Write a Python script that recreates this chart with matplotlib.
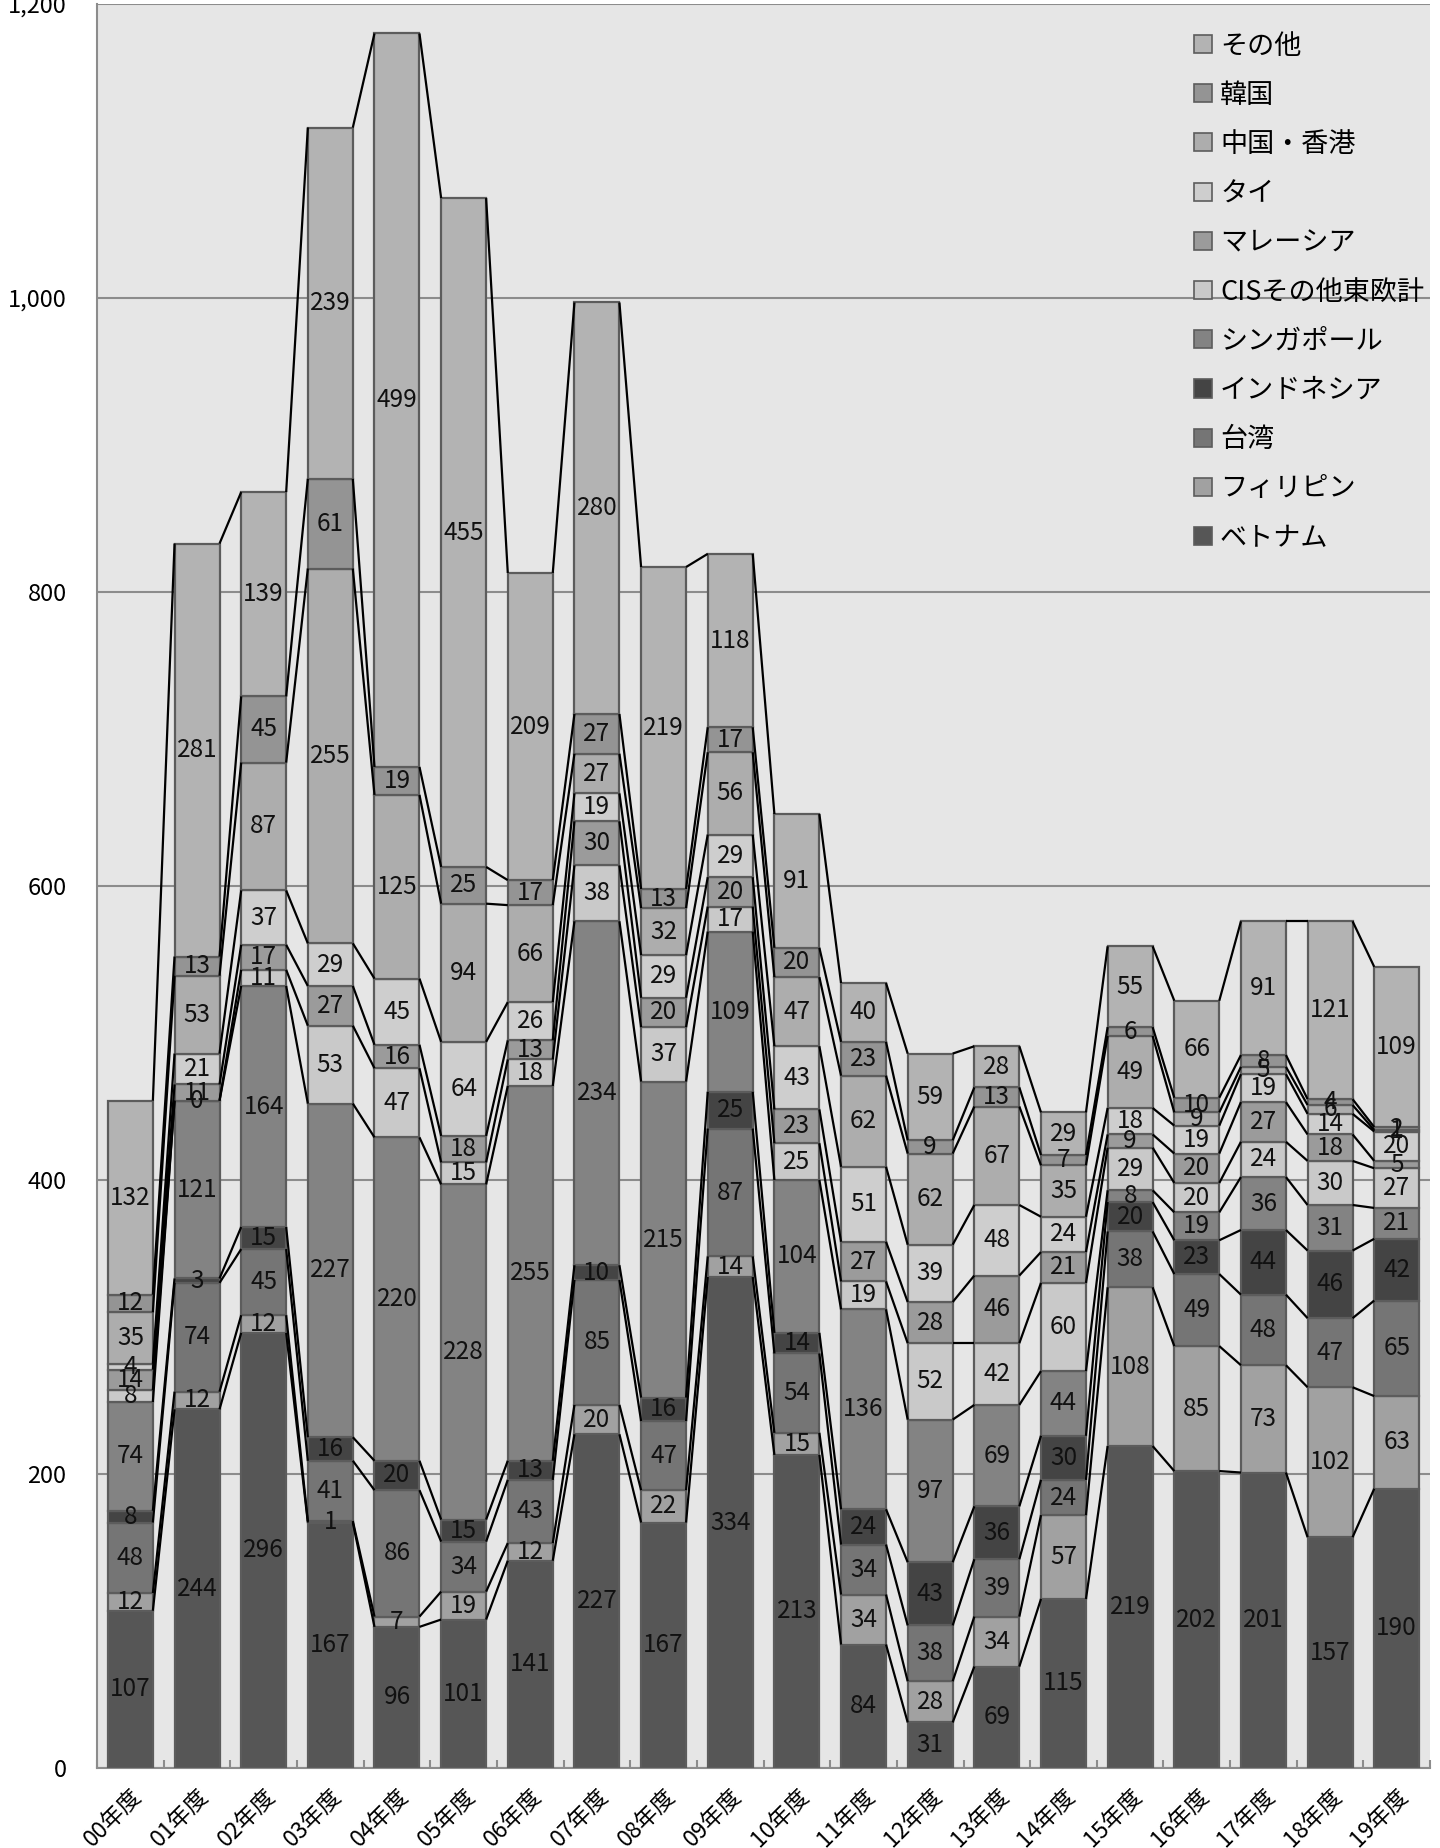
import matplotlib
matplotlib.use("Agg")
import matplotlib.pyplot as plt
from matplotlib.patches import Patch
from matplotlib.ticker import FuncFormatter, FixedLocator
import numpy as np

plt.rcParams['font.family'] = ['Noto Sans CJK JP', 'DejaVu Sans']

years = ["00年度", "01年度", "02年度", "03年度", "04年度", "05年度", "06年度",
         "07年度", "08年度", "09年度", "10年度", "11年度", "12年度", "13年度",
         "14年度", "15年度", "16年度", "17年度", "18年度", "19年度"]

# Stacked bottom to top
vietnam     = [107, 244, 296, 167, 96, 101, 141, 227, 167, 334, 213, 84, 31, 69, 115, 219, 202, 201, 157, 190]
philippines = [12, 12, 12, 1, 7, 19, 12, 20, 22, 14, 15, 34, 28, 34, 57, 108, 85, 73, 102, 63]
taiwan      = [48, 74, 45, 41, 86, 34, 43, 85, 47, 87, 54, 34, 38, 39, 24, 38, 49, 48, 47, 65]
indonesia   = [8, 3, 15, 16, 20, 15, 13, 10, 16, 25, 14, 24, 43, 36, 30, 20, 23, 44, 46, 42]
singapore   = [74, 121, 164, 227, 220, 228, 255, 234, 215, 109, 104, 136, 97, 69, 44, 8, 19, 36, 31, 21]
cis_eeurope = [8, 0, 11, 53, 47, 15, 18, 38, 37, 17, 25, 19, 52, 42, 60, 29, 20, 24, 30, 27]
malaysia    = [14, 11, 17, 27, 16, 18, 13, 30, 20, 20, 23, 27, 28, 46, 21, 9, 20, 27, 18, 5]
thailand    = [4, 21, 37, 29, 45, 64, 26, 19, 29, 29, 43, 51, 39, 48, 24, 18, 19, 19, 14, 20]
china_hk    = [35, 53, 87, 255, 125, 94, 66, 27, 32, 56, 47, 62, 62, 67, 35, 49, 9, 5, 6, 1]
korea       = [12, 13, 45, 61, 19, 25, 17, 27, 13, 17, 20, 23, 9, 13, 7, 6, 10, 8, 4, 2]
others      = [132, 281, 139, 239, 499, 455, 209, 280, 219, 118, 91, 40, 59, 28, 29, 55, 66, 91, 121, 109]

series_names = ["ベトナム", "フィリピン", "台湾", "インドネシア", "シンガポール",
                "CISその他東欧計", "マレーシア", "タイ", "中国・香港", "韓国", "その他"]
series_values = [vietnam, philippines, taiwan, indonesia, singapore,
                 cis_eeurope, malaysia, thailand, china_hk, korea, others]
series_colors = ["#565656", "#a1a1a1", "#757575", "#444444", "#838383",
                 "#c9c9c9", "#9b9b9b", "#cecece", "#adadad", "#949494", "#b3b3b3"]

fig = plt.figure(figsize=(14.4, 18.48), dpi=100)
ax = fig.add_axes([0.0674, 0.0433, 0.9257, 0.9545])
ax.set_facecolor("#e6e6e6")

x = np.arange(len(years))
width = 0.675
bottom = np.zeros(len(years))
tops = []
for name, vals, col in zip(series_names, series_values, series_colors):
    vals = np.array(vals, dtype=float)
    ax.bar(x, vals, width=width, bottom=bottom, color=col,
           edgecolor="#5c5c5c", linewidth=1.6, zorder=3)
    for xi, b, v in zip(x, bottom, vals):
        ax.text(xi, b + v / 2, f"{int(v)}", ha="center", va="center",
                fontsize=17.5, color="#111111", zorder=5)
    bottom = bottom + vals
    tops.append(bottom.copy())

# Series lines joining each cumulative boundary between neighbouring bars
for top in tops:
    for i in range(len(years) - 1):
        ax.plot([x[i] + width / 2, x[i + 1] - width / 2], [top[i], top[i + 1]],
                color="black", linewidth=1.6, zorder=4, solid_capstyle="butt")

ax.set_xlim(-0.5, len(years) - 0.5)
ax.set_ylim(0, 1200)
ax.set_yticks(np.arange(0, 1201, 200))
ax.yaxis.set_major_formatter(FuncFormatter(lambda v, p: f"{int(v):,}"))
ax.grid(axis="y", color="#8c8c8c", linewidth=1.5, zorder=1)
ax.set_axisbelow(True)
ax.tick_params(axis="y", length=0, labelsize=17, pad=22)

ax.set_xticks(x)
ax.set_xticklabels(years, rotation=45, ha="right", rotation_mode="anchor", fontsize=16.5)
ax.tick_params(axis="x", length=0, pad=12)
ax.xaxis.set_minor_locator(FixedLocator(np.arange(-0.5, len(years), 1.0)))
ax.tick_params(axis="x", which="minor", direction="in", length=6, color="#8c8c8c", width=1.5)

for side in ["left", "bottom", "top", "right"]:
    ax.spines[side].set_color("#8c8c8c")
    ax.spines[side].set_linewidth(1.5)
ax.spines["top"].set_visible(False)
ax.spines["right"].set_visible(False)

handles = [Patch(facecolor=c, edgecolor="#5c5c5c", linewidth=1.2)
           for c in series_colors][::-1]
labels = series_names[::-1]
leg = ax.legend(handles, labels, loc="upper left", bbox_to_anchor=(0.815, 0.99),
                frameon=False, fontsize=19.5, handlelength=0.65, handleheight=0.65,
                handletextpad=0.3, labelspacing=0.82, borderaxespad=0)

fig.savefig("out.png", dpi=100, facecolor="white")
